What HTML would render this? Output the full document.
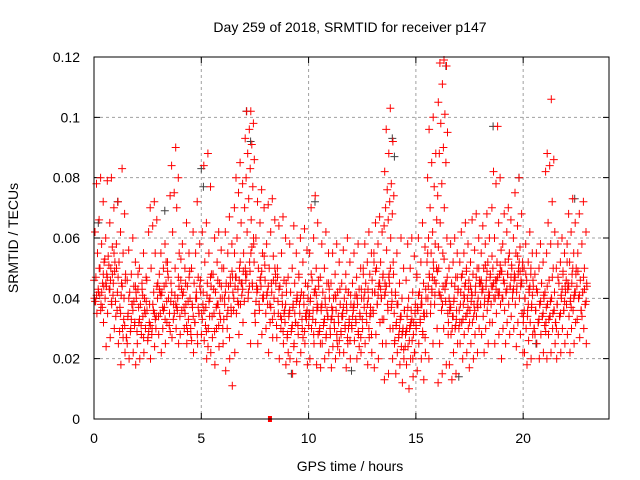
<!DOCTYPE html>
<html><head><meta charset="utf-8"><style>
html,body{margin:0;padding:0;background:#fff;}
svg{display:block;font-family:"Liberation Sans",sans-serif;}
</style></head><body>
<svg id="chart" width="640" height="480" viewBox="0 0 640 480">
<text x="350" y="32" text-anchor="middle" font-size="14">Day 259 of 2018, SRMTID for receiver p147</text>
<text x="350" y="471" text-anchor="middle" font-size="14">GPS time / hours</text>
<text transform="translate(18,238) rotate(-90)" text-anchor="middle" font-size="14">SRMTID / TECUs</text>
<g id="grid"></g>
<g id="ticks"></g>
<g id="marks"></g>
<rect x="94" y="57" width="515" height="362" fill="none" stroke="#000" stroke-width="1"/>
</svg>
<script>
const xTicks=[0,5,10,15,20];
const yTicks=[0,0.02,0.04,0.06,0.08,0.1,0.12];
const yTickLabels=["0","0.02","0.04","0.06","0.08","0.1","0.12"];
// red series: half-hour bins starting at 0h, values in 1e-3 TECU
const redBins=[
"80 78 72 66 62 58 55 52 50 47 45 42 40 38 35 32",
"80 79 70 65 60 57 54 52 50 48 45 43 40 38 35 30 27 24",
"83 72 68 62 58 55 52 48 45 42 40 37 34 30 25 22 18",
"60 56 52 48 46 44 42 40 38 35 32 30 27 22 20 18",
"55 50 47 45 43 40 38 36 34 32 30 28 25 22 20",
"72 70 66 64 62 55 50 45 42 38 34 30 27 24 20",
"58 55 52 50 48 45 42 40 37 35 32 30 28 25 22",
"90 84 80 75 74 70 62 55 50 45 40 38 35 30 27 25",
"65 58 55 50 46 44 42 40 38 36 33 30 28 25",
"72 62 58 55 50 47 45 42 40 37 35 32 28 25 22",
"88 84 77 65 62 55 52 48 45 42 40 37 35 30 26 22 20",
"62 60 56 52 48 45 42 40 38 35 33 30 27 24 18",
"67 62 58 55 50 47 45 42 40 38 35 30 25 20 16 11",
"85 80 78 75 70 65 60 55 50 47 45 43 40 38 35 32 28 22",
"102 102 98 96 93 91 88 86 83 80 77 73 70 66 62 58 52 48 45 40 35 25",
"76 72 70 65 60 55 50 46 44 42 40 36 32 28 25",
"73 71 66 62 58 54 50 45 42 38 35 32 30 27 22",
"67 64 60 55 50 46 44 42 38 35 32 30 27 25 20 18",
"64 58 55 50 47 45 42 40 38 35 32 30 28 25 20 19 15",
"63 60 56 52 48 45 42 40 38 35 33 30 28 25 22 18",
"74 70 65 60 55 50 46 44 42 40 38 36 34 32 30 28 25 20 18",
"62 58 55 50 47 45 42 40 38 36 34 32 30 28 25 22 20 17",
"58 55 52 48 45 42 40 38 36 34 32 30 28 26 24 22 20 17",
"60 56 52 48 45 42 40 38 36 34 32 30 28 25 22 20 17",
"58 55 50 47 45 43 41 40 38 36 34 32 30 28 26 22 20",
"62 58 55 52 50 48 45 42 40 37 35 32 30 27 25 22 18",
"67 65 62 58 55 52 50 48 45 42 40 38 35 32 28 25 20 17",
"103 96 92 88 82 78 76 74 72 70 68 66 64 60 56 52 48 45 42 38 35 30 25 20 15 13",
"60 55 50 45 42 40 38 36 34 32 30 28 26 24 22 20 18 15 12",
"60 58 54 50 46 42 40 38 36 34 32 30 28 26 24 22 20 18 14 10",
"65 60 57 52 48 45 42 40 38 36 34 32 30 28 25 22 20 16 13",
"100 96 88 85 80 77 70 66 62 60 58 55 52 50 47 45 42 40 38 35 30 25 20",
"119 118 117 111 105 101 98 95 90 88 85 78 74 70 65 60 55 50 45 40 35 30 25 18 15 12",
"60 58 55 52 50 47 45 43 40 38 36 34 32 30 28 25 22 18 15 13",
"65 62 58 55 52 50 48 46 44 42 40 38 36 34 32 30 28 25 22 20 17",
"68 66 60 56 52 50 48 46 44 42 40 38 36 34 32 30 28 25 22 20",
"68 64 60 58 55 52 50 48 46 44 42 40 38 36 34 32 30 28 25 22",
"97 82 80 78 70 65 60 56 52 50 48 46 44 42 40 38 35 32 28 25 20",
"70 68 66 62 58 55 52 50 48 46 44 42 40 38 36 34 32 30 28 25",
"80 75 68 64 60 57 55 52 50 48 46 44 42 40 38 35 32 30 28 24 22",
"62 58 55 52 50 48 46 44 42 40 38 36 34 32 30 28 26 22 20 18",
"58 55 52 50 48 45 42 40 38 36 34 32 30 28 25 22 20",
"106 88 86 84 82 72 65 62 58 55 50 46 42 40 38 36 34 32 30 28 25 22 20",
"60 58 55 52 50 48 45 42 40 38 36 34 32 30 28 25 22 20",
"73 68 65 62 58 55 52 50 48 45 42 40 38 36 34 32 30 28 25 22",
"72 68 62 58 55 50 46 44 42 40 38 36 33 30 27 25"
];
// additional dense-core readings per half-hour bin (1e-3 TECU)
const redCore=[
"44 41 39 37 43 46 36 41 48 50 39 42",
"49 46 44 41 51 53 39 47 55 43 45 48",
"46 41 36 33 29 39 44 47 31 35 50 27",
"42 38 34 31 29 27 36 40 44 33 25 39",
"46 41 37 35 31 29 27 33 39 43 48 36",
"40 36 32 30 28 26 35 31 44 38 29 33",
"47 44 42 39 37 34 33 41 49 36 43 52",
"44 41 39 36 33 31 38 42 47 35 29 37",
"49 45 43 39 37 34 31 41 47 35 53 29",
"46 42 38 35 32 30 28 34 44 40 26 37",
"44 41 38 34 31 28 24 36 47 29 33 39",
"50 46 43 40 37 34 31 29 44 38 48 35",
"47 44 40 37 34 30 27 42 49 36 33 45",
"49 46 44 41 39 36 52 47 43 38 55 45",
"52 49 46 44 42 39 55 48 60 44 50 57",
"51 47 44 41 38 35 49 43 54 46 39 40",
"48 45 42 40 38 35 33 44 50 37 41 46",
"45 41 39 36 34 31 29 43 38 33 47 35",
"41 37 34 32 29 27 24 36 39 31 22 35",
"44 41 38 35 33 31 29 40 36 27 47 34",
"46 42 39 36 33 31 43 48 37 28 35 41",
"43 40 37 34 31 29 27 38 45 33 25 36",
"43 40 37 34 32 30 28 36 26 41 33 24",
"41 38 35 33 31 29 27 37 26 43 34 30",
"43 40 37 35 33 31 29 38 27 41 34 24",
"46 43 40 37 35 33 30 42 28 38 48 34",
"47 44 42 40 38 36 45 49 33 41 52 43",
"48 45 42 39 36 33 50 44 30 47 41 37",
"36 33 31 29 27 25 34 38 23 30 41 28",
"35 32 30 28 26 24 33 37 22 31 29 20",
"43 40 37 35 33 31 29 41 27 38 47 35",
"50 47 44 41 38 35 52 48 45 43 55 46",
"47 44 42 39 36 49 53 41 45 38 57 43",
"42 39 36 33 30 28 44 37 47 34 40 31",
"43 40 38 35 33 30 45 47 37 41 32 49",
"45 42 39 37 34 32 47 41 50 36 44 38",
"47 44 42 40 38 45 49 43 41 51 46 39",
"49 46 44 42 40 38 47 45 51 43 54 41",
"51 48 46 44 42 49 53 45 47 43 40 55",
"50 48 46 44 42 40 52 47 45 54 43 49",
"46 43 40 37 34 32 44 48 41 38 36 50",
"41 38 36 34 32 30 39 43 35 33 28 45",
"42 39 37 35 33 31 40 44 36 34 29 47",
"44 41 38 36 34 32 43 47 39 35 30 49",
"48 45 43 41 39 46 50 44 42 37 52 40",
"45 42 40 38 36 44 47 41 39 34 49 43"
];
const binWidth=0.5;
const grayTimes=[0.2,1.1,5.0,5.1,7.1,7.3,10.3,13.9,14.0,16.4,17.0,18.6,19.8,22.4,9.2,12.0,3.3,20.6];
const grayValues=[0.065,0.072,0.083,0.077,0.102,0.092,0.072,0.093,0.087,0.117,0.014,0.097,0.080,0.073,0.015,0.016,0.069,0.025];
const zeroTimes=[8.2];

const X0=94,X1=609,Y0=419,Y1=57,XMAX=24,YMAX=0.12;
const xs=v=>X0+(v/XMAX)*(X1-X0);
const ys=v=>Y0-(v/YMAX)*(Y0-Y1);
const NS="http://www.w3.org/2000/svg";
const grid=document.getElementById('grid'),ticks=document.getElementById('ticks'),marks=document.getElementById('marks');
function mk(tag,attrs,parent){const e=document.createElementNS(NS,tag);for(const k in attrs)e.setAttribute(k,attrs[k]);parent.appendChild(e);return e;}
xTicks.forEach(t=>{
  const x=xs(t);
  if(t>0){const g=mk('line',{x1:x,x2:x,y1:Y1,y2:Y0,stroke:'#a0a0a0','stroke-dasharray':'3,3'},grid);
  
  }
  const tk=mk('path',{d:`M${x},${Y0}v-6M${x},${Y1}v6`,stroke:'#000'},ticks);
  
  
  const tx=mk('text',{x:x,y:Y0+24,'text-anchor':'middle','font-size':14},ticks);
  tx.textContent=t;
  
  
});
yTicks.forEach((t,i)=>{
  const y=ys(t);
  if(t>0&&t<YMAX){const g=mk('line',{x1:X0,x2:X1,y1:y,y2:y,stroke:'#a0a0a0','stroke-dasharray':'3,3'},grid);
  
  }
  const tk=mk('path',{d:`M${X0},${y}h6M${X1},${y}h-6`,stroke:'#000'},ticks);
  
  
  const tx=mk('text',{x:X0-14,y:y+5,'text-anchor':'end','font-size':14},ticks);
  tx.textContent=yTickLabels[i];
  
  
});
function plus(x,y){return `M${(x-4).toFixed(1)},${y.toFixed(1)}h8M${x.toFixed(1)},${(y-4).toFixed(1)}v8`;}
let gd='';
grayTimes.forEach((t,i)=>{gd+=plus(xs(t),ys(grayValues[i]));});
const gp=mk('path',{d:gd,stroke:'#404040','stroke-width':1,fill:'none'},marks);


let rd='';
function addBins(arr,phase){
  arr.forEach((s,b)=>{
    const vals=s.trim().split(/\s+/).map(Number);
    vals.forEach((v,i)=>{
      const frac=((i+1)*0.61803+phase)%1;
      const t=b*binWidth+frac*binWidth;
      rd+=plus(xs(t),ys(v/1000));
    });
  });
}
addBins(redBins,0);
addBins(redCore,0.3);
const rp=mk('path',{d:rd,stroke:'#ff0000','stroke-width':1,fill:'none'},marks);


zeroTimes.forEach(t=>{
  const r=mk('rect',{x:xs(t)-2,y:Y0-3,width:4,height:6,fill:'#ff0000'},marks);
  
  
});
</script>
</body></html>
